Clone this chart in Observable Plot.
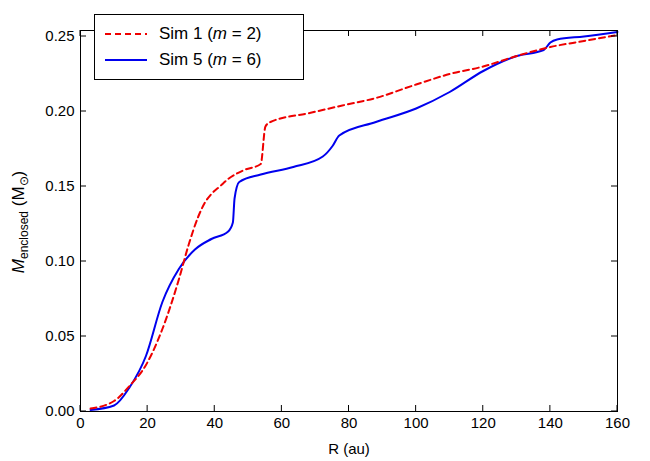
<!DOCTYPE html>
<html>
<head>
<meta charset="utf-8">
<script src="https://cdn.jsdelivr.net/npm/d3@7"></script>
<script src="https://cdn.jsdelivr.net/npm/@observablehq/plot@0.6"></script>
<style>
  body { margin: 0; background: white; font-family: "Liberation Sans", Arial, sans-serif; }
  #chart { position: relative; width: 650px; height: 461px; }
  #ylab { position: absolute; left: 20px; top: 222px; transform: translate(-50%, -50%) rotate(-90deg); font-size: 17px; white-space: nowrap; }
  #legend { position: absolute; left: 94px; top: 14px; width: 208px; border: 1px solid #000; background: white; padding: 6px 0; font-size: 17px; }
  #legend div { display: flex; align-items: center; height: 26px; }
  #legend svg { margin: 0 12px 0 10px; }
</style>
</head>
<body>
<div id="chart"></div>
<script>
// Sim 1 (m = 2)
const r1 = [3, 10, 14.6, 19.5, 24.4, 29.3, 32.2, 35.1, 37, 39, 41.5, 44, 48.8, 53.7, 55.1, 56.6, 68.3, 78, 88, 100, 110, 120, 130, 140, 150, 160]
const m1 = [0.002, 0.007, 0.017, 0.031, 0.055, 0.088, 0.111, 0.130, 0.139, 0.145, 0.150, 0.155, 0.161, 0.165, 0.19, 0.193, 0.199, 0.204, 0.209, 0.218, 0.225, 0.230, 0.237, 0.243, 0.247, 0.251]
// Sim 5 (m = 6)
const r5 = [3, 10, 14.6, 19.5, 24.4, 29.3, 34.1, 39, 44, 45.4, 45.9, 47.3, 53.7, 63.4, 72.2, 75.1, 77.1, 88, 100, 110, 120, 130, 138, 140, 142, 150, 160]
const m5 = [0.001, 0.004, 0.016, 0.037, 0.073, 0.095, 0.108, 0.115, 0.120, 0.126, 0.142, 0.153, 0.158, 0.163, 0.170, 0.177, 0.184, 0.193, 0.202, 0.213, 0.227, 0.237, 0.241, 0.246, 0.248, 0.25, 0.253]

const xTicks = [0, 20, 40, 60, 80, 100, 120, 140, 160]
const yTicks = [0, 0.05, 0.10, 0.15, 0.20, 0.25]

const sim1 = r1.map((r, i) => ({r, m: m1[i]}))
const sim5 = r5.map((r, i) => ({r, m: m5[i]}))

const chart = Plot.plot({
  width: 650, height: 461,
  marginLeft: 80, marginRight: 33, marginTop: 30, marginBottom: 50,
  style: {fontFamily: "Liberation Sans, Arial, sans-serif", fontSize: "15px", color: "black"},
  x: {domain: [0, 160]},
  y: {domain: [0, 0.254]},
  marks: [
    Plot.axisX({ticks: xTicks, tickSize: 0, tickPadding: 6, label: "R (au)", labelArrow: "none", labelAnchor: "center", labelOffset: 42, fontSize: 15}),
    Plot.axisY({ticks: yTicks, tickSize: 0, tickPadding: 6, tickFormat: d3.format(".2f"), label: null, fontSize: 15}),
    Plot.line(sim5, {x: "r", y: "m", stroke: "#0000ee", strokeWidth: 2, curve: "monotone-x"}),
    Plot.line(sim1, {x: "r", y: "m", stroke: "#ee0000", strokeWidth: 2, strokeDasharray: "6,4", curve: "monotone-x"}),
    Plot.frame({stroke: "black"})
  ]
})

// inward tick marks on all four sides, placed through the plot's own scales
const sx = chart.scale("x"), sy = chart.scale("y")
const [x0, x1] = sx.range, [y0, y1] = sy.range
const g = d3.select(chart).append("g").attr("stroke", "black").attr("stroke-width", 1)
for (const t of xTicks) {
  const px = sx.apply(t)
  g.append("line").attr("x1", px).attr("x2", px).attr("y1", y0).attr("y2", y0 - 6)
  g.append("line").attr("x1", px).attr("x2", px).attr("y1", y1).attr("y2", y1 + 6)
}
for (const t of yTicks) {
  const py = sy.apply(t)
  g.append("line").attr("y1", py).attr("y2", py).attr("x1", x0).attr("x2", x0 + 6)
  g.append("line").attr("y1", py).attr("y2", py).attr("x1", x1).attr("x2", x1 - 6)
}

const el = document.getElementById("chart")
el.append(chart)
el.insertAdjacentHTML("beforeend", `
  <div id="ylab"><i>M</i><sub style="font-size:12px">enclosed</sub> (M<sub style="font-size:12px">&#x2299;</sub>)</div>
  <div id="legend">
    <div><svg width="42" height="4"><line x1="0" y1="2" x2="42" y2="2" stroke="#ee0000" stroke-width="2" stroke-dasharray="6,4"/></svg>Sim 1 (<i>m</i>&nbsp;=&nbsp;2)</div>
    <div><svg width="42" height="4"><line x1="0" y1="2" x2="42" y2="2" stroke="#0000ee" stroke-width="2"/></svg>Sim 5 (<i>m</i>&nbsp;=&nbsp;6)</div>
  </div>`)
</script>
</body>
</html>
